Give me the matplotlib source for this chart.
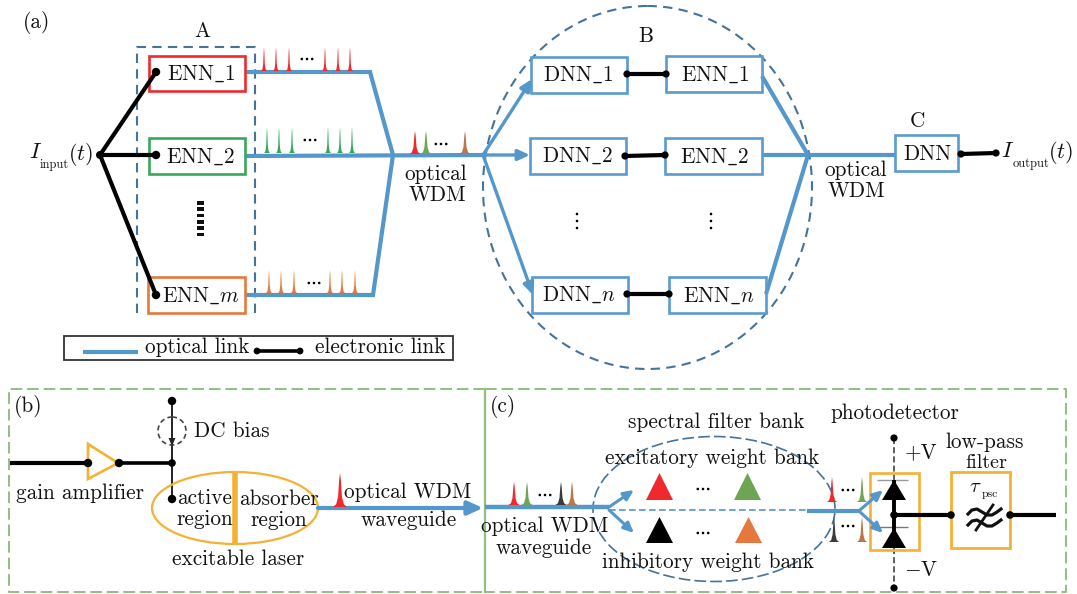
import warnings
import matplotlib
matplotlib.use("Agg")
import matplotlib.pyplot as plt
from matplotlib.patches import Rectangle, Ellipse, Polygon, Circle

warnings.filterwarnings("ignore")
plt.rcParams['mathtext.fontset'] = 'cm'
plt.rcParams['axes.formatter.use_mathtext'] = True
FONT = 'cmr10'

BLUE = '#5497cb'
BOXBLUE = '#5b9bd0'
DASH = '#44739c'
RED = '#ee2a2e'
GREEN = '#35a85c'
ORANGE = '#e5783f'
DGREEN = '#6ea555'
BROWN = '#b9774a'
DARK = '#3a3a3a'
YEL = '#f5b133'
PGREEN = '#92bf80'

# node boxes: label, x0, y0, x1, y1, edge colour
ENN_LABELS = [r'$\mathrm{ENN\_1}$', r'$\mathrm{ENN\_2}$', r'$\mathrm{ENN\_}m$']
ENN_BOXES = [(149, 56, 245, 91, RED), (149, 138, 245, 174, GREEN), (148, 277, 245, 313, ORANGE)]
ENN_TEXT_X = [201, 200, 201]
INPUT_HUB = (100, 155)
INPUT_ENDS = [(156, 72), (156, 155), (156, 295)]

DNN_BOXES = [(531, 57, 627, 93), (530, 138, 626, 174), (532, 277, 628, 313)]
ENN2_BOXES = [(666, 56, 762, 92), (665, 138, 762, 174), (669, 277, 766, 313)]
DNN_LABELS = [r'$\mathrm{DNN\_1}$', r'$\mathrm{DNN\_2}$', r'$\mathrm{DNN\_}n$']
ENN2_LABELS = [r'$\mathrm{ENN\_1}$', r'$\mathrm{ENN\_2}$', r'$\mathrm{ENN\_}n$']
ELINKS = [((627, 74), (666, 74)), ((625, 156), (665, 155)), ((627, 294), (669, 294))]

# pulse trains: x positions, baseline, height, colour, x of the dots
TRAIN_X = [[264, 276, 289, 325, 338, 350], [267, 279, 292, 328, 340, 352], [269, 281, 294, 330, 342, 355]]
TRAIN_BASE = [71, 153, 293]
TRAIN_TOP = [47, 127, 270]
TRAIN_COL = [RED, GREEN, ORANGE]
TRAIN_DOTS = [(307, 59), (310, 140), (314, 283)]
WDM_X = [415, 426, 465]
WDM_COL = [RED, DGREEN, BROWN]
PULSE_DX = [-1, -.55, -.28, -.12, 0, .12, .28, .55, 1]
PULSE_DY = [0, .08, .3, .8, 1, .8, .3, .08, 0]

# low-pass filter symbol: two wavy strokes and a slash
WAVE_X = [968, 972, 977, 982, 987, 992, 997, 1001]
WAVE_UP = [514, 510, 509, 512, 515, 515, 512, 509]
WAVE_LOW = [525, 521, 520, 523, 526, 526, 523, 520]
SLASH_X = [976, 993]
SLASH_Y = [530, 505]

fig = plt.figure(figsize=(10.77, 5.94), dpi=100)
ax = fig.add_axes([0, 0, 1, 1])
ax.set_xlim(0, 1077)
ax.set_ylim(594, 0)
ax.axis('off')


def T(x, y, s, size=15.3, ha='center', va='center', **kw):
    ax.text(x, y, s, fontsize=size, ha=ha, va=va, family=FONT, color='#111111', zorder=10, **kw)


def L(pts, c=BLUE, w=3.2, z=3, **kw):
    xs, ys = zip(*pts)
    ax.plot(xs, ys, color=c, lw=w, zorder=z, solid_capstyle='butt', solid_joinstyle='miter', **kw)


def D(x, y, r=3.8, c='black'):
    ax.add_patch(Circle((x, y), r, fc=c, ec='none', zorder=7))


def EL(a, b, w=3.0, r=3.6):
    L([a, b], 'black', w, 6)
    D(*a, r)
    D(*b, r)


def box(x0, y0, x1, y1, c, w=1.9, z=4):
    ax.add_patch(Rectangle((x0, y0), x1 - x0, y1 - y0, fc='none', ec=c, lw=w, zorder=z))


def pulse(x, base, top, c, hw=3.0):
    ax.add_patch(Polygon([(x + d * hw, base + (top - base) * h) for d, h in zip(PULSE_DX, PULSE_DY)],
                         closed=True, fc=c, ec='none', zorder=5))


def dots3(x, y, gap=5.2, r=1.3):
    for k in (-1, 0, 1):
        D(x + k * gap, y, r)


def tri(x, apex, base, hw, fc='none', z=5):
    ax.add_patch(Polygon([(x - hw, base), (x + hw, base), (x, apex)], closed=True, fc=fc, ec='none', zorder=z))


def arrow(a, b, c=BLUE, w=2.6, head=7):
    ax.annotate('', xy=b, xytext=a, zorder=5,
                arrowprops=dict(arrowstyle=f'-|>,head_length={head/10},head_width={head/22}',
                                color=c, lw=w, shrinkA=0, shrinkB=0, mutation_scale=10))


# ---------- panel (a) ----------
T(23, 23, '(a)', ha='left')
T(202, 31, 'A')
ax.plot([137, 137, 255, 255], [313, 47, 47, 313], color=DASH, lw=1.5, ls=(0, (4.5, 3)), zorder=2)

for (x0, y0, x1, y1, c), lab, tx in zip(ENN_BOXES, ENN_LABELS, ENN_TEXT_X):
    box(x0, y0, x1, y1, c)
    T(tx, (y0 + y1) / 2 + 0.5, lab)
for end in INPUT_ENDS:
    L([INPUT_HUB, end], 'black', 3.0, 6)
    D(*end, 4.2)
D(*INPUT_HUB, 4)
T(29, 152, r'$I$', 16, ha='left')
T(40, 165, 'input', 9, ha='left')
T(68, 154, r'$(t)$', 16, ha='left')
for k in range(6):
    ax.add_patch(Rectangle((197, 201 + k * 6.3), 6.5, 3.8, fc='#111111', ec='none', zorder=5))

L([(245, 72), (370, 72), (393, 155), (373, 295), (245, 295)], BLUE, 3.0)
L([(245, 156), (483, 155)], BLUE, 3.0)
for xs, b, t, c, d in zip(TRAIN_X, TRAIN_BASE, TRAIN_TOP, TRAIN_COL, TRAIN_DOTS):
    for x in xs:
        pulse(x, b, t, c, 2.8)
    dots3(*d)
for x, c in zip(WDM_X, WDM_COL):
    pulse(x, 154, 131, c, 5.5)
dots3(441, 144)
T(436, 174, 'optical')
T(437, 195, 'WDM')

# ---------- block B ----------
T(646, 36, 'B')
ax.add_patch(Ellipse((647.5, 187.5), 329, 363, fc='none', ec=DASH, lw=1.5, ls=(0, (4.5, 3)), zorder=2))
for b, lab in zip(DNN_BOXES, DNN_LABELS):
    box(*b, BOXBLUE)
    T((b[0] + b[2]) / 2 - 1, (b[1] + b[3]) / 2 - 0.5, lab)
for b, lab in zip(ENN2_BOXES, ENN2_LABELS):
    box(*b, BOXBLUE)
    T((b[0] + b[2]) / 2 + 1, (b[1] + b[3]) / 2 + 1, lab)
for a, b in ELINKS:
    EL(a, b)
HUB_L = (483, 155)
HUB_R = (808, 155)
arrow(HUB_L, (532, 79), w=2.4)
arrow(HUB_L, (530, 155), w=2.4)
arrow(HUB_L, (533, 295), w=2.4)
L([(762, 76), HUB_R], BLUE, 3.0)
L([(762, 155), HUB_R, (895, 155)], BLUE, 3.0)
L([(766, 294), HUB_R], BLUE, 3.0)
for x in (577, 711):
    for y in (214, 221, 228):
        D(x, y, 1.3)
T(856, 170, 'optical')
T(856, 191, 'WDM')
T(917, 121, 'C')
box(895, 135, 958, 171, BOXBLUE)
T(927, 154, 'DNN')
EL((961, 154), (996, 153))
T(1001, 151, r'$I$', 16, ha='left')
T(1013, 164, 'output', 9, ha='left')
T(1048, 153, r'$(t)$', 16, ha='left')

# legend
box(64, 336, 453, 360, '#333333', 1.3)
L([(83, 352), (138, 352)], BLUE, 3.0)
EL((257, 351), (300, 351), 2.6, 3.4)
T(197, 347, 'optical link')
T(380, 347, 'electronic link')

# ---------- panel (b) ----------
ax.plot([485, 9, 9, 485], [389, 389, 592, 592], color=PGREEN, lw=1.4, ls=(0, (6, 2.5)), zorder=1)
T(14, 407, '(b)', ha='left')
L([(10, 463), (88, 463)], 'black', 3.0)
ax.add_patch(Polygon([(88, 444), (88, 479), (118, 463)], closed=True, fc='none', ec=YEL, lw=1.9, zorder=4))
L([(119, 463), (172, 463)], 'black', 2.6)
D(88, 463, 4.2)
D(119, 463, 4.2)
D(172, 463, 3.8)
L([(172, 401), (172, 499)], '#222222', 1.4)
D(172, 401, 4.2)
D(172, 499, 4.2)
ax.add_patch(Polygon([(168.5, 438), (175.5, 438), (172, 446)], closed=True, fc='#222222', ec='none', zorder=7))
ax.add_patch(Circle((172, 431), 14, fc='none', ec='#444444', lw=1.2, ls=(0, (3, 2)), zorder=4))
T(194, 431, 'DC bias', ha='left')
T(80, 493, 'gain amplifier')
ax.add_patch(Ellipse((235, 508), 166, 72, fc='none', ec=YEL, lw=1.6, zorder=4))
L([(235, 472), (235, 544)], YEL, 4.0)
T(205, 498, 'active')
T(205, 519, 'region')
T(279, 499, 'absorber')
T(279, 520, 'region')
T(238, 559, 'excitable laser')
arrow((318, 508), (483, 508), w=3.0, head=9)
pulse(340, 507, 473, RED, 7)
T(408, 492, 'optical WDM')
T(409, 520, 'waveguide')

# ---------- panel (c) ----------
ax.plot([485, 485], [389, 592], color=PGREEN, lw=1.6, zorder=1)
ax.plot([485, 1066, 1066, 485], [389, 389, 592, 592], color=PGREEN, lw=1.4, ls=(0, (6, 2.5)), zorder=1)
T(490, 407, '(c)', ha='left')
ax.add_patch(Ellipse((714, 509), 242, 145, fc='none', ec=DASH, lw=1.2, ls=(0, (7, 2.5)), zorder=2))
T(716, 422, 'spectral filter bank')
T(712, 458, 'excitatory weight bank')
T(708, 562, 'inhibitory weight bank')
T(545, 526, 'optical WDM')
T(544, 548, 'waveguide')
L([(485, 507), (609, 507)], BLUE, 3.2)
L([(609, 510), (807, 510)], BLUE, 1.2, ls=(0, (4, 2)))
arrow((609, 507), (634, 490), w=2.2, head=6)
arrow((609, 510), (634, 533), w=2.2, head=6)
L([(807, 511), (860, 511)], BLUE, 3.0)
arrow((860, 510), (883, 490), w=2.2, head=6)
arrow((860, 512), (883, 533), w=2.2, head=6)

for x, c in zip([514, 527, 561, 572], [RED, DGREEN, DARK, BROWN]):
    pulse(x, 505, 482, c, 5.5)
dots3(545, 495)
tri(659.5, 473, 500, 13.5, fc=RED)
tri(747.5, 473, 500, 13.5, fc=DGREEN)
tri(659.5, 517, 543, 13.5, fc='black')
tri(748.5, 517, 543, 13.5, fc=ORANGE)
dots3(703, 489)
dots3(703, 533)
pulse(832, 502, 477, RED, 5)
pulse(862, 502, 477, DGREEN, 5)
pulse(834, 542, 517, DARK, 5)
pulse(862, 542, 517, BROWN, 5)
dots3(848, 490)
dots3(848, 526)

T(895, 413, 'photodetector')
box(870, 473, 919, 550, YEL, 1.9)
ax.plot([894, 894], [438, 588], color='#333333', lw=1.1, ls=(0, (4, 2)), zorder=3)
D(894, 438, 3.6)
D(894, 588, 3.6)
L([(894, 480), (894, 548)], 'black', 2.8, 6)
L([(877, 480), (908, 480)], '#9a9a9a', 1.0)
L([(877, 527), (908, 527)], '#777777', 1.0)
tri(894, 480, 500, 12, fc='black', z=6)
tri(894, 528, 548, 12, fc='black', z=6)
T(921, 452, '+V')
T(921, 570, r'$-$V')
EL((894, 515), (951, 515), 3.0, 3.8)
L([(1010, 515), (1056, 515)], 'black', 3.0, 6)
D(1010, 515, 3.8)
box(951, 472, 1010, 548, YEL, 2.0)
T(985, 442, 'low-pass')
T(986, 463, 'filter', 14.5)
T(969, 487, r'$\tau$', 15, ha='left')
T(982, 494, 'psc', 8.5, ha='left')
ax.plot(WAVE_X, WAVE_UP, color='#111111', lw=2.3, zorder=10)
ax.plot(WAVE_X, WAVE_LOW, color='#111111', lw=2.3, zorder=10)
ax.plot(SLASH_X, SLASH_Y, color='#111111', lw=2.0, zorder=10)

fig.savefig('out.png', dpi=100)
